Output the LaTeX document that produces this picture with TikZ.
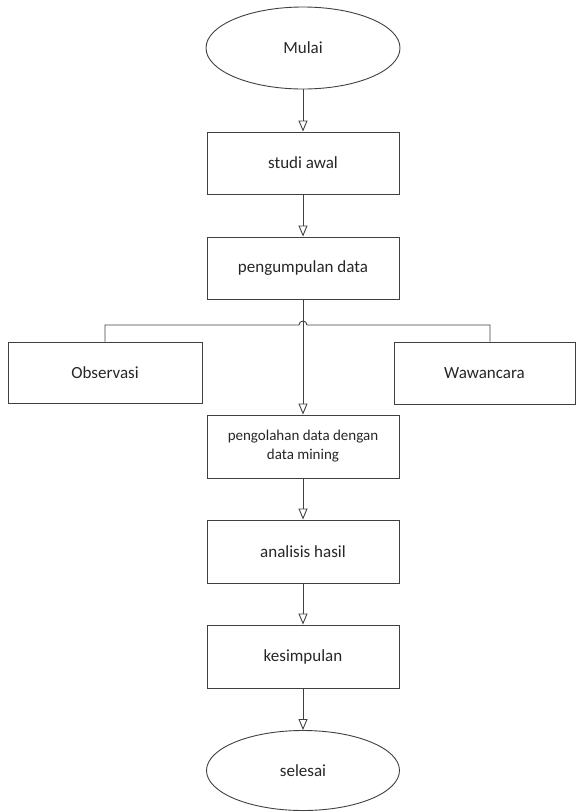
\documentclass[tikz,border=0pt]{standalone}
\usepackage{fontspec}
\setmainfont{Carlito}
\usepackage{tikz}
\usetikzlibrary{arrows.meta}
\usetikzlibrary{shapes.geometric}

\begin{document}
\begin{tikzpicture}[x=1pt,y=-1pt,
  kotak/.style={draw=black!75, line width=.9pt, rectangle, inner sep=0pt, minimum width=192pt, minimum height=62pt, text=black!85, font=\fontsize{17}{20}\selectfont},
  ujung/.style={draw=black!75, line width=.9pt, ellipse, inner sep=0pt, minimum width=194pt, minimum height=82pt, text=black!85, font=\fontsize{17}{20}\selectfont},
  panah/.style={draw=black!75, line width=.9pt, -{Triangle[open,length=11pt,width=9pt]}},
  garis/.style={draw=black!75, line width=.9pt}]
\useasboundingbox (0,0) rectangle (579,812);

\node[ujung] (mulai) at (303,48) {Mulai};
\node[kotak] (studi) at (303,163) {studi awal};
\node[kotak] (kumpul) at (303,268) {pengumpulan data};

\node[kotak, minimum width=194pt, minimum height=61pt] (obs) at (105,372.5) {Observasi};
\node[kotak, minimum width=181pt] (waw) at (484.5,373) {Wawancara};

\node[kotak, minimum height=63pt, align=center, font=\fontsize{15}{19}\selectfont] (olah) at (303,446.5) {pengolahan data dengan\\data mining};
\node[kotak, minimum height=63pt] (analisis) at (303,551.5) {analisis hasil};
\node[kotak, minimum height=63pt] (simpul) at (303,656.5) {kesimpulan};
\node[ujung, minimum width=193pt, minimum height=80pt] (selesai) at (303,770.5) {selesai};

\draw[panah] (mulai) -- (studi);
\draw[panah] (studi) -- (kumpul);
\draw[panah] (kumpul) -- (olah);
\draw[panah] (olah) -- (analisis);
\draw[panah] (analisis) -- (simpul);
\draw[panah] (simpul) -- (selesai);

\coordinate (lompat) at (303,325); % hop over the vertical line
\draw[garis] (obs.north) |- ([xshift=-4pt]lompat) arc (180:360:4) -| ([xshift=5.5pt]waw.north);

\end{tikzpicture}
\end{document}
